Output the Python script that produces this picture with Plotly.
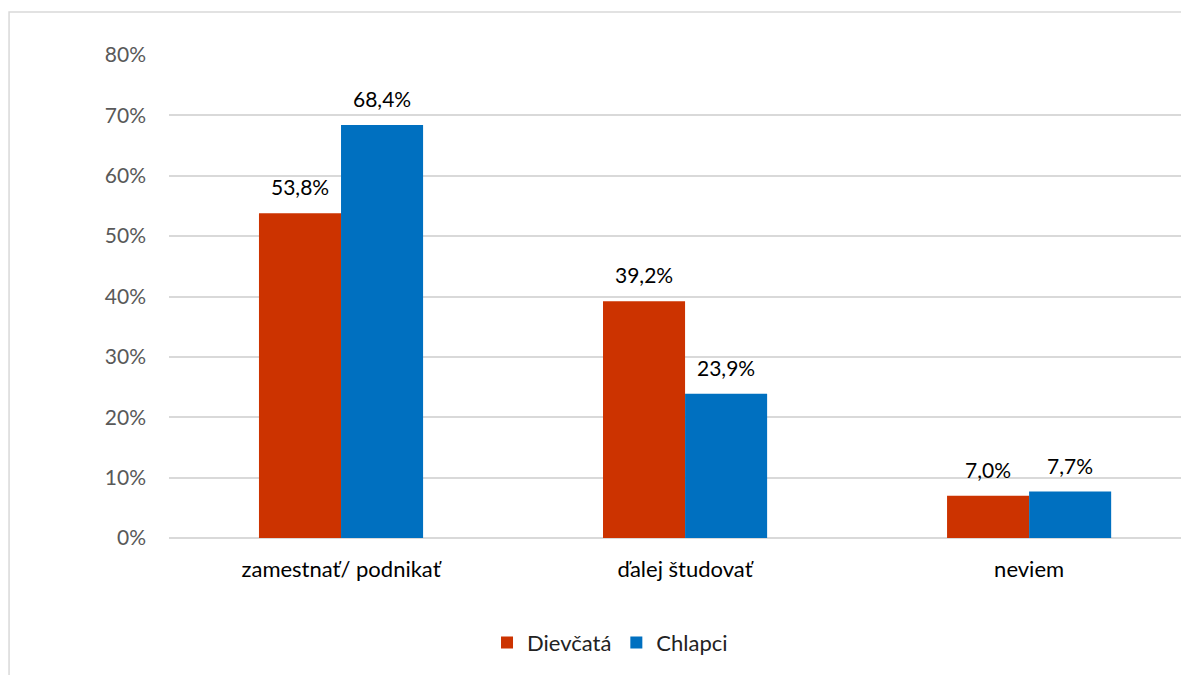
import plotly.graph_objects as go

categories = ["zamestnať/ podnikať", "ďalej študovať", "neviem"]
dievcata = [0.538, 0.392, 0.070]
chlapci = [0.684, 0.239, 0.077]
series_names = ["Dievčatá", "Chlapci"]
tick_vals = [0, 0.1, 0.2, 0.3, 0.4, 0.5, 0.6, 0.7, 0.8]

FONT = "Lato, 'Open Sans', sans-serif"
colors = ["#CC3300", "#0070C0"]

fig = go.Figure()
for name, vals, col in zip(series_names, [dievcata, chlapci], colors):
    fig.add_trace(go.Bar(name=name, x=categories, y=vals,
                         marker=dict(color=col, line=dict(width=0))))

def fmt(v):
    return f"{v*100:.1f}%".replace(".", ",")

annotations = []
for vals, shift in zip([dievcata, chlapci], [-41, 41]):
    for c, v in zip(categories, vals):
        annotations.append(dict(x=c, y=v, text=fmt(v), showarrow=False,
                                xshift=shift, yshift=12, yanchor="bottom",
                                font=dict(size=21, color="#000000", family=FONT)))

fig.update_layout(
    width=1189, height=675,
    margin=dict(l=161, r=0, t=47, b=145, autoexpand=False),
    paper_bgcolor="white", plot_bgcolor="white",
    barmode="group", bargap=0.523, bargroupgap=0,
    font=dict(family=FONT, size=21, color="#000000"),
    showlegend=True,
    legend=dict(orientation="h", x=0.429, y=-0.217, xanchor="center", yanchor="middle",
                font=dict(size=22, color="#222222"), traceorder="normal"),
    annotations=annotations,
    shapes=[dict(type="rect", xref="paper", yref="paper",
                 x0=-0.1556, x1=1.02, y0=-0.3, y1=1.089,
                 line=dict(color="#D9D9D9", width=1.5), fillcolor="rgba(0,0,0,0)", layer="below")],
)
fig.update_xaxes(range=[-0.5, 2.488], showgrid=False, showline=False, zeroline=False,
                 tickfont=dict(size=22, color="#000000"), ticklabelstandoff=16)
fig.update_yaxes(range=[0, 0.8], tickvals=tick_vals, tickformat=".0%",
                 showgrid=True, gridcolor="#D9D9D9", gridwidth=1.5,
                 zeroline=True, zerolinecolor="#D9D9D9", zerolinewidth=1.5,
                 showline=False, tickfont=dict(size=21, color="#595959"),
                 ticklabelstandoff=22)

fig.write_html("out.html")
